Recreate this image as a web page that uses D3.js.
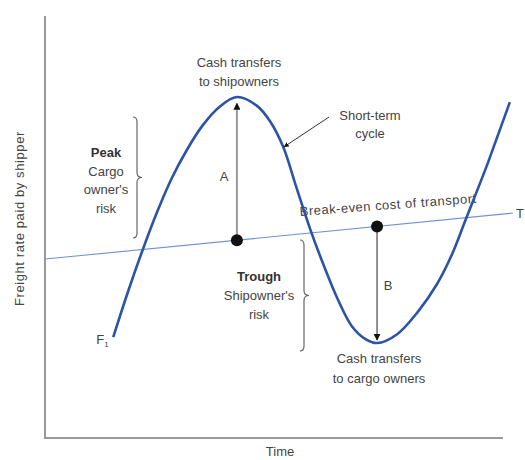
<!DOCTYPE html>
<html lang="en">
<head>
<meta charset="UTF-8">
<title>Short-term freight cycle</title>
<style>
  body { margin: 0; background: #fff; }
  text { font-family: "Liberation Sans", Arial, sans-serif; font-size: 13px; fill: #444; }
  .axis-line { stroke: #999; stroke-width: 2; fill: none; }
  .cycle { fill: none; stroke: #2c54a6; stroke-width: 2.6; }
  .breakeven { fill: none; stroke: #7391d2; stroke-width: 1.1; }
  .brace { fill: none; stroke: #666; stroke-width: 1.2; }
  .bold { font-weight: bold; fill: #333; }
</style>
<script src="https://d3js.org/d3.v7.min.js"></script>
</head>
<body>
<script>
// freight rate over time (time 0-100, rate 0-100)
const cycleTime = [14.9, 18.1, 21.4, 24.5, 27.7, 31.0, 34.3, 38.0, 41.9, 46.3, 49.1, 52.0, 54.8, 57.9, 60.9, 64.0, 67.0, 69.9, 72.5, 76.9, 81.4, 85.6, 88.9, 91.9, 96.7, 101.5];
const cycleRate = [23.9, 34.6, 44.8, 53.6, 61.6, 68.3, 73.9, 78.4, 80.8, 78.7, 75.1, 69.0, 59.7, 49.5, 40.8, 32.7, 26.5, 23.5, 22.5, 24.6, 29.9, 36.5, 43.6, 51.9, 65.2, 79.6];

// break-even cost of transport (T)
const breakEvenTime = [0, 102.2];
const breakEvenRate = [42.4, 53.3];

// peak and trough markers: A (peak) and B (trough)
const markerTime = [41.9, 72.5];
const markerLabels = ["A", "B"];

const width = 525, height = 460;
const svg = d3.select("body").append("svg")
  .attr("width", width).attr("height", height);

const x = d3.scaleLinear().domain([0, 100]).range([45, 503]);
const y = d3.scaleLinear().domain([0, 100]).range([438, 16]);

const beRate = t => breakEvenRate[0] + (t - breakEvenTime[0]) *
  (breakEvenRate[1] - breakEvenRate[0]) / (breakEvenTime[1] - breakEvenTime[0]);

// axes (no ticks)
svg.append("path").attr("class", "axis-line")
  .attr("d", `M${x(0)},${y(100)}V${y(0)}H${x(100)}`);

svg.append("text")
  .attr("transform", `translate(24,${y(52)}) rotate(-90)`)
  .attr("text-anchor", "middle")
  .style("letter-spacing", "0.6px")
  .text("Freight rate paid by shipper");

svg.append("text")
  .attr("x", 280).attr("y", 456)
  .attr("text-anchor", "middle")
  .text("Time");

// arrow markers
const defs = svg.append("defs");
defs.append("marker")
  .attr("id", "head")
  .attr("viewBox", "0 0 10 10")
  .attr("refX", 9).attr("refY", 5)
  .attr("markerWidth", 5).attr("markerHeight", 5)
  .attr("markerUnits", "userSpaceOnUse")
  .attr("orient", "auto")
  .append("path").attr("d", "M0,0L10,5L0,10Z").attr("fill", "#111");
defs.append("marker")
  .attr("id", "head2")
  .attr("viewBox", "0 0 10 10")
  .attr("refX", 9).attr("refY", 5)
  .attr("markerWidth", 7).attr("markerHeight", 7)
  .attr("markerUnits", "userSpaceOnUse")
  .attr("orient", "auto")
  .append("path").attr("d", "M0,0L10,5L0,10Z").attr("fill", "#111");

// break-even line
svg.append("path").attr("class", "breakeven")
  .datum(breakEvenTime.map((t, i) => [t, breakEvenRate[i]]))
  .attr("d", d3.line().x(d => x(d[0])).y(d => y(d[1])));

svg.append("text")
  .attr("x", x(breakEvenTime[1]) + 3).attr("y", y(breakEvenRate[1]) + 5)
  .text("T");

svg.append("text")
  .attr("transform", `translate(300,216) rotate(-4.3)`)
  .style("letter-spacing", "0.5px")
  .text("Break-even cost of transport");

// vertical arrows A and B
const peakRate = d3.max(cycleRate), troughRate = d3.min(cycleRate);
const arrows = [
  { t: markerTime[0], from: beRate(markerTime[0]), to: peakRate - 1.5, color: "#9a9a9a", w: 2 },
  { t: markerTime[1], from: beRate(markerTime[1]), to: troughRate + 0.7, color: "#555", w: 1.3 }
];
svg.selectAll(".vArrow").data(arrows).join("line")
  .attr("class", "vArrow")
  .attr("x1", d => x(d.t)).attr("x2", d => x(d.t))
  .attr("y1", d => y(d.from)).attr("y2", d => y(d.to))
  .attr("stroke", d => d.color).attr("stroke-width", d => d.w)
  .attr("marker-end", "url(#head2)");

svg.selectAll(".mLabel").data(markerLabels).join("text")
  .attr("class", "mLabel")
  .attr("x", (d, i) => i === 0 ? 224 : 388)
  .attr("y", (d, i) => i === 0 ? 181 : 290)
  .attr("text-anchor", "middle")
  .text(d => d);

// the cycle
svg.append("path").attr("class", "cycle")
  .datum(cycleTime.map((t, i) => [t, cycleRate[i]]))
  .attr("d", d3.line().curve(d3.curveCatmullRom.alpha(0.5))
    .x(d => x(d[0])).y(d => y(d[1])));

// dots on break-even line
svg.selectAll(".dot").data(markerTime).join("circle")
  .attr("class", "dot")
  .attr("cx", d => x(d)).attr("cy", d => y(beRate(d)))
  .attr("r", 6).attr("fill", "#111");

// braces
function brace(px, y0, y1) {
  const m = (y0 + y1) / 2;
  return `M${px - 4},${y0} Q${px},${y0} ${px},${y0 + 5} V${m - 5} Q${px},${m} ${px + 5},${m}` +
    ` Q${px},${m} ${px},${m + 5} V${y1 - 5} Q${px},${y1} ${px - 4},${y1}`;
}
svg.append("path").attr("class", "brace").attr("d", brace(137, 117, 238));
svg.append("path").attr("class", "brace").attr("d", brace(304, 240, 351));

// text blocks
function block(lines, cx, y0, dy, boldFirst) {
  lines.forEach((s, i) => {
    svg.append("text")
      .attr("class", boldFirst && i === 0 ? "bold" : null)
      .attr("x", cx).attr("y", y0 + i * dy)
      .attr("text-anchor", "middle")
      .text(s);
  });
}
block(["Peak", "Cargo", "owner's", "risk"], 106, 157, 18.6, true);
block(["Trough", "Shipowner's", "risk"], 259, 281, 19, true);
block(["Cash transfers", "to shipowners"], 239, 67, 19, false);
block(["Cash transfers", "to cargo owners"], 379, 363, 20, false);
block(["Short-term", "cycle"], 370, 120, 18, false);

// short-term cycle pointer
svg.append("line")
  .attr("x1", 329).attr("y1", 117)
  .attr("x2", x(cycleTime[11]) + 1).attr("y2", y(cycleRate[11]))
  .attr("stroke", "#333").attr("stroke-width", 1)
  .attr("marker-end", "url(#head)");

// F1 start label
const f1 = svg.append("text")
  .attr("x", x(cycleTime[0]) - 17).attr("y", y(cycleRate[0]) + 7);
f1.append("tspan").text("F");
f1.append("tspan").attr("dy", 3).style("font-size", "8px").text("1");
</script>
</body>
</html>
